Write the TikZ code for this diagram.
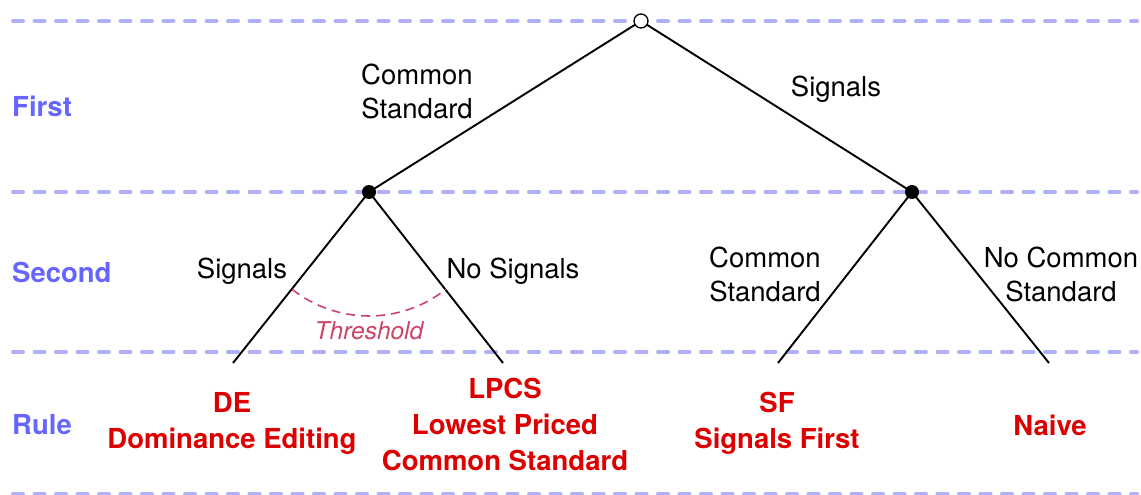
\documentclass[tikz,border=0pt]{standalone}
\usepackage{fontspec}
\setmainfont{TeX Gyre Heros}
\definecolor{guide}{HTML}{B0B0F8}
\definecolor{lvl}{HTML}{6666FF}
\definecolor{rule}{HTML}{DD0000}
\definecolor{thr}{HTML}{CC4466}
\begin{document}
\begin{tikzpicture}[x=1pt,y=-1pt,
  guideline/.style={guide, line width=4pt, line cap=round, dash pattern=on 10pt off 11.5pt},
  branch/.style={black, line width=1.9pt},
  opennode/.style={circle, draw=black, fill=white, line width=1.3pt, minimum size=14pt, inner sep=0pt},
  solidnode/.style={circle, fill=black, minimum size=14pt, inner sep=0pt},
  lbl/.style={font=\fontsize{27.5}{34}\selectfont, align=center, inner sep=0pt},
  level/.style={font=\fontsize{27.5}{34}\selectfont\bfseries, text=lvl, anchor=west, inner sep=0pt},
  rulelbl/.style={font=\fontsize{27.5}{36}\selectfont\bfseries, text=rule, align=center, inner sep=0pt},
  threshold/.style={font=\fontsize{24.5}{28}\selectfont\itshape, text=thr, inner sep=0pt}
]
\useasboundingbox (0,0) rectangle (1141,495);
% guide lines
\coordinate (g1a) at (13,21);  \coordinate (g1b) at (1137,21);
\coordinate (g2a) at (13,192); \coordinate (g2b) at (1137,192);
\coordinate (g3a) at (13,352); \coordinate (g3b) at (1137,352);
\coordinate (g4a) at (13,494); \coordinate (g4b) at (1137,494);
\draw[guideline] (g1a) -- (g1b);
\draw[guideline] (g2a) -- (g2b);
\draw[guideline] (g3a) -- (g3b);
\draw[guideline] (g4a) -- (g4b);
% level labels
\node[level] (first) at (12,106) {First};
\node[level] (second) at (12,272) {Second};
\node[level] (rulel) at (12,425) {Rule};
% tree nodes
\coordinate (root) at (641,21);
\coordinate (L) at (369,192);
\coordinate (R) at (912,192);
\coordinate (LL) at (233,363);
\coordinate (LR) at (503,363);
\coordinate (RL) at (778,363);
\coordinate (RR) at (1049,363);
\draw[branch] (root) -- (L);
\draw[branch] (root) -- (R);
\draw[branch] (L) -- (LL);
\draw[branch] (L) -- (LR);
\draw[branch] (R) -- (RL);
\draw[branch] (R) -- (RR);
\node[opennode] (rootn) at (root) {};
\node[solidnode] (Ln) at (L) {};
\node[solidnode] (Rn) at (R) {};
% threshold arc
\draw[thr, line width=1.6pt, dash pattern=on 9pt off 6pt] (L) ++(128.3:124) arc[start angle=128.3, end angle=51.7, radius=124];
\node[threshold] (thrl) at (369,331) {Threshold};
% branch labels
\node[lbl] (cs1) at (417,91) {Common\\Standard};
\node[lbl] (sig1) at (836,89) {Signals};
\node[lbl] (sig2) at (242,271) {Signals};
\node[lbl] (nosig) at (513,271) {No Signals};
\node[lbl] (cs2) at (765,274) {Common\\Standard};
\node[lbl] (ncs) at (1061,274) {No Common\\Standard};
% rule labels
\node[rulelbl] (de) at (232,423) {DE\\Dominance Editing};
\node[rulelbl] (lpcs) at (505,424) {LPCS\\Lowest Priced\\Common Standard};
\node[rulelbl] (sf) at (777,423) {SF\\Signals First};
\node[rulelbl] (naive) at (1050,425) {Naive};
\end{tikzpicture}
\end{document}
